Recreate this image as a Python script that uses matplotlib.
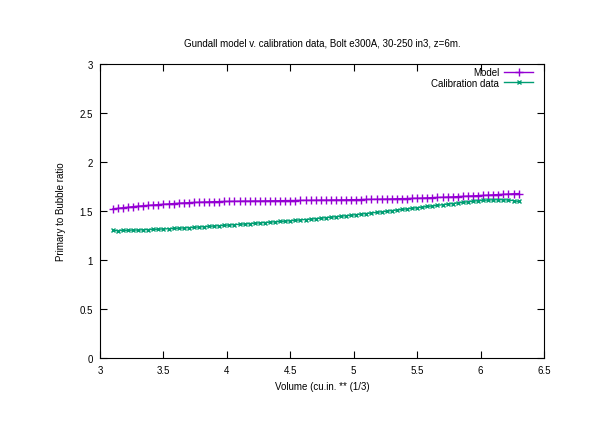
import numpy as np
import matplotlib
matplotlib.use("Agg")
import matplotlib.pyplot as plt

plt.rcParams['font.family'] = ['Liberation Sans', 'DejaVu Sans']

# cube root of volume (cu.in.)
vol = [3.10, 3.14, 3.18, 3.22, 3.26, 3.30, 3.34, 3.38, 3.42, 3.46,
       3.50, 3.54, 3.58, 3.62, 3.66, 3.70, 3.74, 3.78, 3.82, 3.86,
       3.90, 3.94, 3.98, 4.02, 4.06, 4.10, 4.14, 4.18, 4.22, 4.26,
       4.30, 4.34, 4.38, 4.42, 4.46, 4.50, 4.54, 4.58, 4.62, 4.66,
       4.70, 4.74, 4.78, 4.82, 4.86, 4.90, 4.94, 4.98, 5.02, 5.06,
       5.10, 5.14, 5.18, 5.22, 5.26, 5.30, 5.34, 5.38, 5.42, 5.46,
       5.50, 5.54, 5.58, 5.62, 5.66, 5.70, 5.74, 5.78, 5.82, 5.86,
       5.90, 5.94, 5.98, 6.02, 6.06, 6.10, 6.14, 6.18, 6.22, 6.26, 6.30]

model = [1.520, 1.527, 1.533, 1.538, 1.544, 1.549, 1.553, 1.557, 1.561, 1.565,
         1.569, 1.572, 1.576, 1.579, 1.582, 1.585, 1.587, 1.589, 1.591, 1.593,
         1.595, 1.596, 1.597, 1.598, 1.599, 1.600, 1.601, 1.601, 1.602, 1.602,
         1.603, 1.604, 1.604, 1.605, 1.606, 1.607, 1.607, 1.608, 1.609, 1.609,
         1.610, 1.611, 1.611, 1.612, 1.613, 1.613, 1.614, 1.615, 1.616, 1.617,
         1.618, 1.619, 1.620, 1.621, 1.622, 1.623, 1.625, 1.626, 1.627, 1.629,
         1.630, 1.632, 1.634, 1.636, 1.638, 1.640, 1.642, 1.644, 1.647, 1.649,
         1.652, 1.654, 1.657, 1.659, 1.662, 1.665, 1.668, 1.670, 1.673, 1.676, 1.678]

calib = [1.302, 1.299, 1.303, 1.302, 1.306, 1.305, 1.309, 1.310, 1.313, 1.314,
         1.317, 1.319, 1.322, 1.325, 1.327, 1.330, 1.333, 1.337, 1.340, 1.343,
         1.347, 1.350, 1.354, 1.357, 1.361, 1.364, 1.368, 1.371, 1.375, 1.379,
         1.382, 1.386, 1.390, 1.393, 1.397, 1.401, 1.405, 1.409, 1.413, 1.417,
         1.422, 1.427, 1.432, 1.437, 1.442, 1.447, 1.452, 1.457, 1.463, 1.469,
         1.474, 1.480, 1.486, 1.492, 1.498, 1.504, 1.510, 1.516, 1.522, 1.528,
         1.534, 1.540, 1.546, 1.552, 1.558, 1.564, 1.570, 1.576, 1.582, 1.588,
         1.594, 1.600, 1.605, 1.609, 1.612, 1.614, 1.615, 1.615, 1.612, 1.606, 1.597]

fig = plt.figure(figsize=(6.12, 4.27), dpi=100)
ax = fig.add_axes([100/612, 1 - 359/427, 444/612, 294/427])

ax.plot(vol, model, color='#9400D3', lw=1, marker='+', ms=6, mew=1, label='Model')
ax.plot(vol, calib, color='#009E73', lw=1, marker='x', ms=3.5, mew=1, label='Calibration data')

ax.set_xlim(3, 6.5)
ax.set_ylim(0, 3)
ax.set_xticks([3, 3.5, 4, 4.5, 5, 5.5, 6, 6.5])
ax.set_yticks([0, 0.5, 1, 1.5, 2, 2.5, 3])
ax.set_xticklabels(['3', '3.5', '4', '4.5', '5', '5.5', '6', '6.5'])
ax.set_yticklabels(['0', '0.5', '1', '1.5', '2', '2.5', '3'])
ax.tick_params(direction='in', length=5, width=0.8, top=True, right=True, labelsize=7, pad=5)
for s in ax.spines.values():
    s.set_linewidth(0.8)

ax.set_title('Gundall model v. calibration data, Bolt e300A, 30-250 in3, z=6m.', fontsize=7, pad=13)
ax.set_xlabel('Volume (cu.in. ** (1/3)', fontsize=7, labelpad=4)
ax.set_ylabel('Primary to Bubble ratio', fontsize=7, labelpad=10)

ax.legend(loc='upper right', bbox_to_anchor=(0.98, 0.995), frameon=False, markerfirst=False,
          fontsize=7, handlelength=3, borderaxespad=0.0, borderpad=0.2, labelspacing=0.05,
          handletextpad=0.5)

fig.savefig('out.png', dpi=100)
